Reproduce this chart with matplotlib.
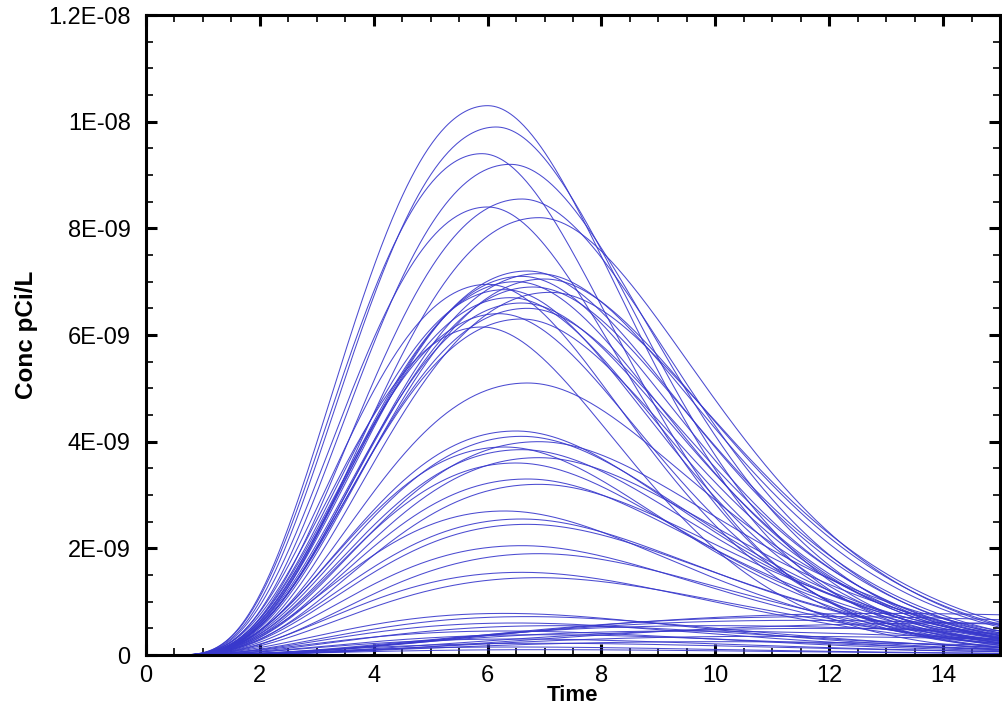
import numpy as np
import matplotlib
matplotlib.use("Agg")
import matplotlib.pyplot as plt
from matplotlib.ticker import MultipleLocator, FuncFormatter

plt.rcParams["font.family"] = ["Liberation Sans", "DejaVu Sans"]

# ---- data: one breakthrough curve per realization ----
# peak concentration (pCi/L), time of peak, and rise / fall sharpness
peak_conc = [
    1.03e-8, 9.9e-9, 9.4e-9, 9.2e-9, 8.55e-9, 8.4e-9, 8.2e-9,
    7.2e-9, 7.15e-9, 7.1e-9, 7.05e-9, 7.0e-9, 6.95e-9, 6.9e-9, 6.85e-9,
    6.8e-9, 6.7e-9, 6.6e-9, 6.5e-9, 6.4e-9, 6.3e-9, 6.15e-9, 5.1e-9,
    4.2e-9, 4.1e-9, 4.0e-9, 3.9e-9, 3.85e-9, 3.7e-9, 3.6e-9, 3.3e-9,
    3.2e-9, 2.7e-9, 2.55e-9, 2.45e-9, 2.05e-9, 1.9e-9, 1.55e-9, 1.45e-9,
    7.8e-10, 7.2e-10, 6.0e-10, 5.5e-10, 4.5e-10, 3.8e-10, 3.0e-10,
    2.2e-10, 1.5e-10, 1.0e-10,
    7.8e-10, 7.2e-10, 6.5e-10, 5.5e-10, 5.0e-10, 4.5e-10, 3.5e-10,
    2.5e-10, 6.0e-10,
]
peak_time = [
    6.0, 6.15, 5.9, 6.4, 6.6, 6.0, 6.9,
    6.7, 6.9, 6.6, 7.0, 6.5, 6.0, 6.8, 6.3,
    7.1, 6.4, 6.6, 6.7, 6.2, 6.6, 5.9, 6.7,
    6.5, 6.6, 6.9, 6.3, 6.6, 6.9, 6.5, 6.7,
    6.9, 6.3, 6.6, 6.7, 6.6, 6.9, 6.6, 6.9,
    6.3, 6.7, 6.5, 7.2, 6.3, 7.0, 6.5,
    7.0, 6.5, 7.0,
    13.0, 12.0, 11.5, 10.0, 12.0, 9.5, 11.0,
    10.0, 14.5,
]
rise_shape = [
    4.1, 4.1, 4.1, 4.1, 4.1, 4.1, 4.1,
    4.0, 4.0, 4.0, 4.0, 4.0, 4.0, 4.0, 4.0,
    4.0, 4.0, 4.0, 4.0, 4.0, 4.0, 4.0, 3.9,
    3.7, 3.7, 3.7, 3.7, 3.7, 3.7, 3.7, 3.7,
    3.7, 3.5, 3.5, 3.5, 3.5, 3.5, 3.3, 3.3,
    3.0, 3.0, 3.0, 3.0, 2.8, 2.8, 2.8,
    2.8, 2.8, 2.8,
    3.0, 3.0, 3.0, 3.0, 3.0, 3.0, 3.0,
    3.0, 3.0,
]
fall_shape = [
    6.2, 6.2, 6.2, 6.2, 6.2, 6.2, 6.2,
    6.0, 6.0, 6.0, 6.0, 6.0, 6.0, 6.0, 6.0,
    6.0, 6.0, 6.0, 6.0, 6.0, 6.0, 6.0, 5.5,
    5.0, 5.0, 5.0, 5.0, 5.0, 5.0, 5.0, 5.0,
    5.0, 4.5, 4.5, 4.5, 4.5, 4.5, 4.0, 4.0,
    3.5, 3.5, 3.5, 3.5, 3.0, 3.0, 3.0,
    3.0, 3.0, 3.0,
    3.0, 3.0, 3.0, 3.0, 3.0, 3.0, 3.0,
    3.0, 3.0,
]
onset_time = 0.4

xlim = (0, 15)
ylim = (0, 1.2e-8)

fig = plt.figure(figsize=(10.03, 7.15), dpi=100)
ax = fig.add_axes([146 / 1003, 60 / 715, 854 / 1003, 640 / 715])

t = np.linspace(0, 15, 600)
for c, tp, ar, af in zip(peak_conc, peak_time, rise_shape, fall_shape):
    m = tp - onset_time
    x = np.clip(t - onset_time, 0, None) / m
    a = np.where(x < 1, ar, af)
    y = np.where(x > 0, c * np.exp(a * (np.log(np.maximum(x, 1e-12)) + 1 - x)), 0.0)
    ax.plot(t, y, color="#3838cc", lw=0.75, alpha=0.9)

ax.set_xlim(*xlim)
ax.set_ylim(*ylim)

ax.xaxis.set_major_locator(MultipleLocator(2))
ax.xaxis.set_minor_locator(MultipleLocator(0.5))
ax.yaxis.set_major_locator(MultipleLocator(2e-9))
ax.yaxis.set_minor_locator(MultipleLocator(5e-10))


def yfmt(v, pos):
    if abs(v) < 1e-20:
        return "0"
    s = f"{v:.1E}"
    mant, exp = s.split("E")
    mant = mant.rstrip("0").rstrip(".")
    e = int(exp)
    return f"{mant}E-{abs(e):02d}" if e < 0 else f"{mant}E+{e:02d}"


ax.yaxis.set_major_formatter(FuncFormatter(yfmt))
ax.xaxis.set_major_formatter(FuncFormatter(lambda v, p: f"{v:g}"))

for sp in ax.spines.values():
    sp.set_linewidth(2.2)
    sp.set_color("black")

ax.tick_params(which="both", direction="in", top=True, right=True,
               labelsize=17, color="black")
ax.tick_params(which="major", length=8, width=2.2)
ax.tick_params(axis="y", which="major", pad=11)
ax.tick_params(axis="x", which="major", pad=7)
ax.tick_params(which="minor", length=5, width=1.2)

ax.set_xlabel("Time", fontsize=16, fontweight="bold", labelpad=-1)
ax.set_ylabel("Conc pCi/L", fontsize=17.5, fontweight="bold", labelpad=7)

fig.savefig("out.png", dpi=100)
